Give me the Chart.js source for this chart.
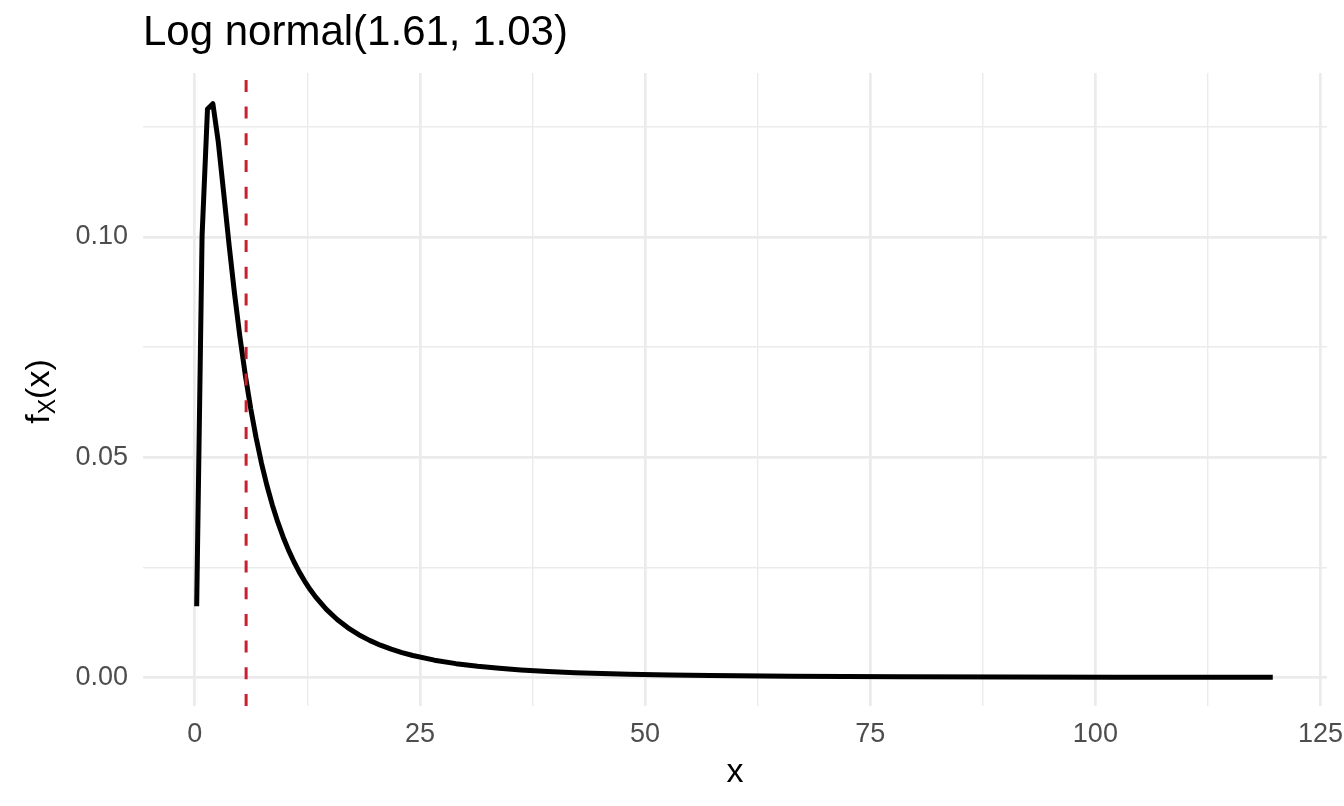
<!DOCTYPE html>
<html>
<head>
<meta charset="utf-8">
<script src="https://cdn.jsdelivr.net/npm/chart.js@4"></script>
<style>
  html, body { margin: 0; padding: 0; background: #ffffff; }
  canvas { display: block; }
</style>
</head>
<body>
<canvas id="chart" width="1344" height="806"></canvas>
<script>
// ---- data ----
const xValues = [0.21, 0.81, 1.41, 2.01, 2.61, 3.21, 3.81, 4.41, 5.01, 5.61, 6.21, 6.81, 7.41,
  8.01, 8.61, 9.21, 9.81, 10.41, 11.01, 11.61, 12.21, 12.81, 13.41, 14.61, 15.81, 17.01, 18.21,
  19.41, 20.61, 21.81, 23.01, 24.21, 26.61, 29.01, 31.41, 33.81, 36.21, 39.21, 42.21, 45.21,
  48.21, 52.71, 57.21, 66.21, 78.21, 90.21, 102.21, 111.21, 119.7];
const densityValues = [0.01616, 0.10024, 0.12900, 0.13022, 0.12156, 0.10997, 0.09817, 0.08717,
  0.07731, 0.06862, 0.06101, 0.05438, 0.04860, 0.04356, 0.03915, 0.03528, 0.03188, 0.02889,
  0.02624, 0.02389, 0.02180, 0.01993, 0.01827, 0.01543, 0.01313, 0.01124, 0.009685, 0.008391,
  0.007307, 0.006393, 0.005618, 0.004957, 0.003902, 0.003113, 0.002513, 0.002050, 0.001688,
  0.001340, 0.001076, 0.000873, 0.000715, 0.000538, 0.000412, 0.000252, 0.0001405, 0.0000833,
  0.0000519, 0.0000374, 0.000028];
const vlineX = 5.7;
const xMajorTicks = [0, 25, 50, 75, 100, 125];
const xMinorTicks = [12.5, 37.5, 62.5, 87.5, 112.5];
const xTickLabels = ['0', '25', '50', '75', '100', '125'];
const yMajorTicks = [0, 0.05, 0.10];
const yMinorTicks = [0.025, 0.075, 0.125];
const yTickLabels = ['0.00', '0.05', '0.10'];
const titleText = 'Log normal(1.61, 1.03)';
const xTitle = 'x';

const FONT = '"Liberation Sans", Arial, Helvetica, sans-serif';
const X_MIN = -5.75, X_MAX = 125.72, Y_MIN = -0.0065, Y_MAX = 0.1372;

function isMajor(list, v) { return list.some(t => Math.abs(t - v) < 1e-9); }

const textPlugin = {
  id: 'texts',
  afterDraw(chart) {
    const ctx = chart.ctx;
    const ca = chart.chartArea;
    ctx.save();
    ctx.fillStyle = '#000000';
    // title
    ctx.font = '42px ' + FONT;
    ctx.textAlign = 'left';
    ctx.textBaseline = 'alphabetic';
    ctx.fillText(titleText, ca.left, 45);
    // x title
    ctx.font = '34px ' + FONT;
    ctx.textAlign = 'center';
    ctx.fillText(xTitle, (ca.left + ca.right) / 2, 782);
    // y title f_X(x)
    const big = '34px ' + FONT, small = '23px ' + FONT;
    ctx.font = big; const wf = ctx.measureText('f').width;
    const wp = ctx.measureText('(x)').width;
    ctx.font = small; const wX = ctx.measureText('X').width;
    const total = wf + wX + wp;
    ctx.translate(48.5, (ca.top + ca.bottom) / 2 + 2);
    ctx.rotate(-Math.PI / 2);
    ctx.textAlign = 'left';
    let x0 = -total / 2;
    ctx.font = big; ctx.fillText('f', x0, 0); x0 += wf;
    ctx.font = small; ctx.fillText('X', x0, 6.5); x0 += wX;
    ctx.font = big; ctx.fillText('(x)', x0, 0);
    ctx.restore();
  }
};

const curveData = xValues.map((x, i) => ({ x: x, y: densityValues[i] }));
const vlineData = [{ x: vlineX, y: Y_MIN }, { x: vlineX, y: Y_MAX }];

new Chart(document.getElementById('chart'), {
  type: 'line',
  data: {
    datasets: [
      {
        data: curveData,
        borderColor: '#000000',
        borderWidth: 5,
        pointRadius: 0,
        tension: 0,
        fill: false,
        borderJoinStyle: 'round',
        borderCapStyle: 'butt',
        order: 2
      },
      {
        data: vlineData,
        borderColor: '#C8202F',
        borderWidth: 3,
        borderDash: [12, 14.7],
        pointRadius: 0,
        fill: false,
        borderCapStyle: 'butt',
        order: 1
      }
    ]
  },
  options: {
    responsive: false,
    animation: false,
    events: [],
    layout: { padding: { top: 73, right: 17, left: 0, bottom: 0 } },
    plugins: { legend: { display: false }, tooltip: { enabled: false }, title: { display: false } },
    scales: {
      x: {
        type: 'linear',
        min: X_MIN,
        max: X_MAX,
        afterBuildTicks(scale) {
          scale.ticks = xMajorTicks.concat(xMinorTicks).sort((a, b) => a - b).map(v => ({ value: v }));
        },
        afterFit(scale) {
          scale.height = 100;
          scale.paddingLeft = 0;
          scale.paddingRight = 0;
        },
        border: { display: false },
        grid: {
          drawTicks: false,
          color: '#EBEBEB',
          lineWidth: (c) => (c.tick && isMajor(xMajorTicks, c.tick.value)) ? 2.7 : 1.4
        },
        ticks: {
          autoSkip: false,
          maxRotation: 0,
          padding: 12,
          color: '#4D4D4D',
          font: { family: FONT, size: 27 },
          callback: (v) => {
            const i = xMajorTicks.findIndex(t => Math.abs(t - v) < 1e-9);
            return i >= 0 ? xTickLabels[i] : '';
          }
        }
      },
      y: {
        type: 'linear',
        min: Y_MIN,
        max: Y_MAX,
        afterBuildTicks(scale) {
          scale.ticks = yMajorTicks.concat(yMinorTicks).sort((a, b) => a - b).map(v => ({ value: v }));
        },
        afterFit(scale) {
          scale.width = 143;
          scale.paddingTop = 0;
          scale.paddingBottom = 0;
        },
        border: { display: false },
        grid: {
          drawTicks: false,
          color: '#EBEBEB',
          lineWidth: (c) => (c.tick && isMajor(yMajorTicks, c.tick.value)) ? 2.7 : 1.4
        },
        ticks: {
          autoSkip: false,
          padding: 15,
          color: '#4D4D4D',
          font: { family: FONT, size: 27 },
          callback: (v) => {
            const i = yMajorTicks.findIndex(t => Math.abs(t - v) < 1e-9);
            return i >= 0 ? yTickLabels[i] : '';
          }
        }
      }
    }
  },
  plugins: [textPlugin]
});
</script>
</body>
</html>
